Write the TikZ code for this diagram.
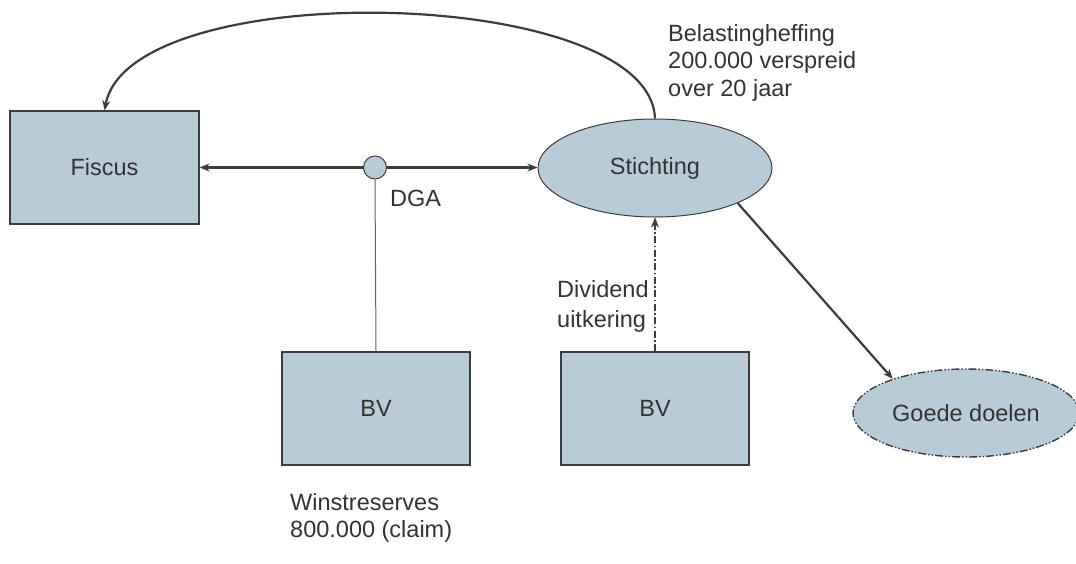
\documentclass[tikz,border=0pt]{standalone}
\usepackage{fontspec}
\setmainfont{Liberation Sans}
\usetikzlibrary{arrows.meta,shapes.geometric}
\definecolor{boxfill}{HTML}{B8CCD8}
\definecolor{edge}{HTML}{3C3C3C}
\definecolor{txt}{HTML}{333333}
\tikzset{
  base/.style={font=\fontsize{23.5}{27.5}\selectfont, text=txt},
  boxnode/.style={base, draw=edge, line width=1.2pt, fill=boxfill, rectangle, inner sep=0pt},
  ellnode/.style={base, draw=edge, line width=1pt, fill=boxfill, ellipse, inner sep=0pt},
  lbl/.style={base, inner sep=0pt, align=left},
  conn/.style={draw=edge, line width=2.2pt, -{Stealth[length=10pt,width=8pt]}},
  dashdotconn/.style={draw=edge, line width=1.8pt, dash pattern=on 7pt off 2.5pt on 1.5pt off 2.5pt, -{Stealth[length=10pt,width=8pt]}},
}
\begin{document}
\begin{tikzpicture}[x=1pt,y=-1pt]
\useasboundingbox (0,0) rectangle (1076,563);
% nodes
\node[boxnode, minimum width=189pt, minimum height=113pt] (fiscus) at (104.5,167.5) {Fiscus};
\node[ellnode, minimum width=234pt, minimum height=98pt] (stichting) at (655,168) {Stichting};
\node[circle, draw=edge, line width=1pt, fill=boxfill, minimum size=23pt, inner sep=0pt] (dga) at (375,167.5) {};
\node[boxnode, minimum width=188pt, minimum height=113pt] (bv1) at (376,408.5) {BV};
\node[boxnode, minimum width=188pt, minimum height=113pt] (bv2) at (655,408.5) {BV};
\node[ellnode, minimum width=226pt, minimum height=88pt, dash pattern=on 8pt off 2pt on 1.5pt off 2pt on 1.5pt off 2pt, line width=1.4pt] (goede) at (966,413) {Goede doelen};
% labels
\node[lbl, anchor=north west] (belast) at (668,24) {Belastingheffing\\200.000 verspreid\\over 20 jaar};
\node[lbl, anchor=west] (dgalbl) at (390,198) {DGA};
\node[lbl, anchor=north west, font=\fontsize{23.5}{30}\selectfont] (divlbl) at (557,280) {Dividend\\uitkering};
\node[lbl, anchor=north west] (winst) at (290,493) {Winstreserves\\800.000 (claim)};
% connectors
\draw[conn] (dga.west) -- (fiscus.east |- dga.west);
\draw[conn] (dga.east) -- (stichting.west |- dga.east);
\draw[draw=edge!80, line width=1pt] (dga.south) -- (bv1.north);
\draw[dashdotconn] (bv2.north) -- (stichting.south);
\draw[conn] (stichting.-23) -- (goede.155);
\draw[conn] (stichting.north) .. controls (650,-15) and (130,-25) .. (fiscus.north);
\end{tikzpicture}
\end{document}
